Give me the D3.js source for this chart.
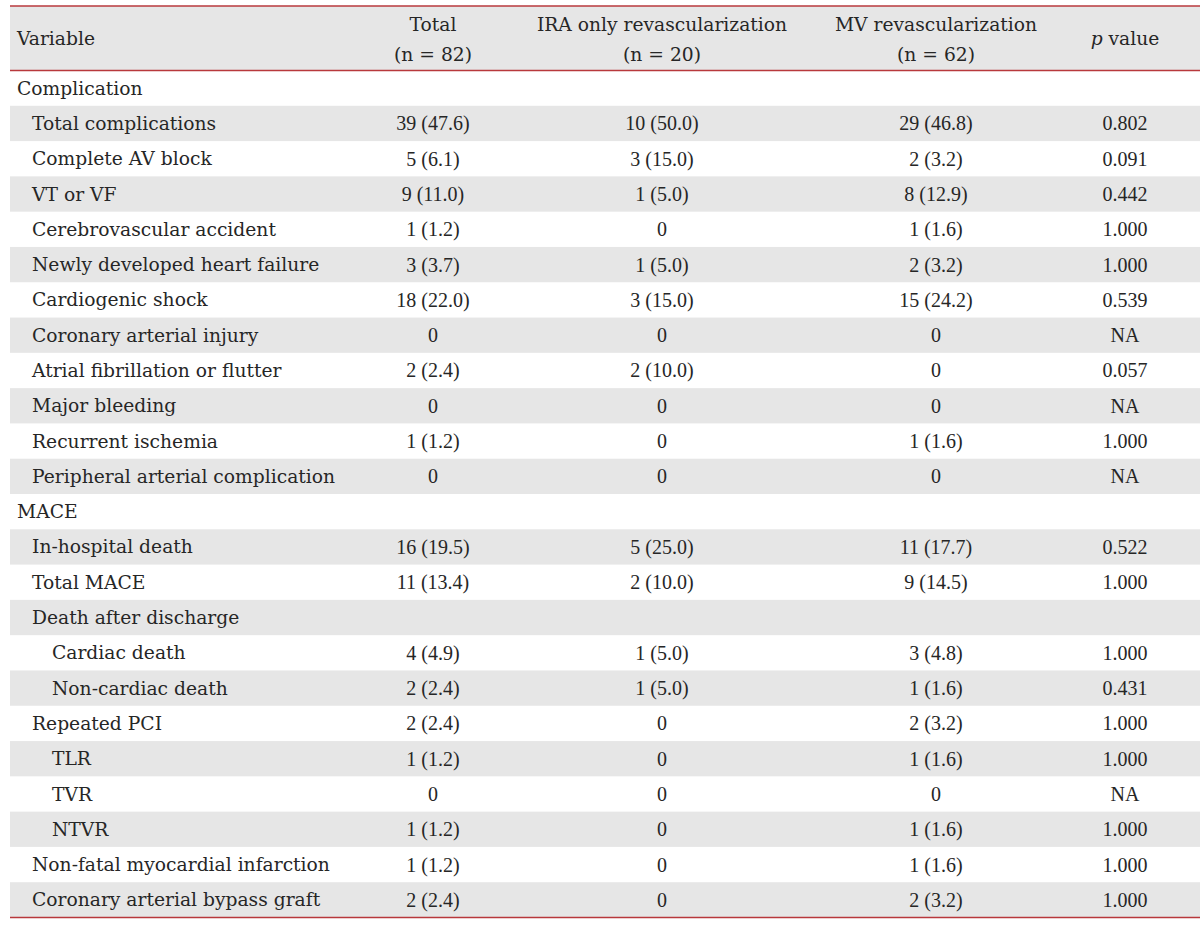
<!DOCTYPE html>
<html><head><meta charset="utf-8">
<script src="https://cdn.jsdelivr.net/npm/d3@7"></script>
<style>
body{margin:0;background:#fff;}
svg text{font-family:"DejaVu Serif",serif;fill:#262626;}
svg text.num{font-family:"Liberation Serif",serif;}
</style></head>
<body>
<svg id="chart" width="1200" height="925"></svg>
<script>
const headers = ["Variable", "Total", "IRA only revascularization", "MV revascularization", "p value"];
const subHeaders = ["", "(n = 82)", "(n = 20)", "(n = 62)", ""];
const variables = ["Complication","Total complications","Complete AV block","VT or VF","Cerebrovascular accident","Newly developed heart failure","Cardiogenic shock","Coronary arterial injury","Atrial fibrillation or flutter","Major bleeding","Recurrent ischemia","Peripheral arterial complication","MACE","In-hospital death","Total MACE","Death after discharge","Cardiac death","Non-cardiac death","Repeated PCI","TLR","TVR","NTVR","Non-fatal myocardial infarction","Coronary arterial bypass graft"];
const levels = [0,1,1,1,1,1,1,1,1,1,1,1,0,1,1,1,2,2,1,2,2,2,1,1];
const totalVals = ["","39 (47.6)","5 (6.1)","9 (11.0)","1 (1.2)","3 (3.7)","18 (22.0)","0","2 (2.4)","0","1 (1.2)","0","","16 (19.5)","11 (13.4)","","4 (4.9)","2 (2.4)","2 (2.4)","1 (1.2)","0","1 (1.2)","1 (1.2)","2 (2.4)"];
const iraVals = ["","10 (50.0)","3 (15.0)","1 (5.0)","0","1 (5.0)","3 (15.0)","0","2 (10.0)","0","0","0","","5 (25.0)","2 (10.0)","","1 (5.0)","1 (5.0)","0","0","0","0","0","0"];
const mvVals = ["","29 (46.8)","2 (3.2)","8 (12.9)","1 (1.6)","2 (3.2)","15 (24.2)","0","0","0","1 (1.6)","0","","11 (17.7)","9 (14.5)","","3 (4.8)","1 (1.6)","2 (3.2)","1 (1.6)","0","1 (1.6)","1 (1.6)","2 (3.2)"];
const pVals = ["","0.802","0.091","0.442","1.000","1.000","0.539","NA","0.057","NA","1.000","NA","","0.522","1.000","","1.000","0.431","1.000","1.000","NA","1.000","1.000","1.000"];

const rows = variables.map((v,i)=>({v, lvl:levels[i], vals:[totalVals[i], iraVals[i], mvVals[i], pVals[i]]}));

const svg = d3.select("#chart");
const left = 10, right = 1200;
const headTop = 6, headBottom = 70.5, bodyBottom = 917.5;
const fs = 18.7, fsNum = 20;
const red = "#b8383c";

const y = d3.scaleBand().domain(d3.range(rows.length)).range([headBottom, bodyBottom]);
const colX = d3.scaleOrdinal().domain([1,2,3,4]).range([433, 662, 936, 1125]);
const indent = d3.scaleOrdinal().domain([0,1,2]).range([17, 32, 52]);

// header band
svg.append("rect").attr("x", left).attr("y", headTop).attr("width", right-left).attr("height", headBottom-headTop).attr("fill", "#e6e6e6");
// stripes
svg.selectAll("rect.stripe").data(rows.map((r,i)=>i).filter(i=>i%2===1)).join("rect")
  .attr("class","stripe").attr("x", left).attr("y", i=>y(i)).attr("width", right-left).attr("height", y.bandwidth()).attr("fill", "#e6e6e6");

// header text
svg.append("text").attr("x", 17).attr("y", 45).attr("font-size", fs).text(headers[0]);
[1,2,3].forEach(c=>{
  svg.append("text").attr("x", colX(c)).attr("y", 31).attr("text-anchor","middle").attr("font-size", fs).text(headers[c]);
  svg.append("text").attr("x", colX(c)).attr("y", 61).attr("text-anchor","middle").attr("font-size", fs).text(subHeaders[c]);
});
const pt = svg.append("text").attr("x", colX(4)).attr("y", 45).attr("text-anchor","middle").attr("font-size", fs);
pt.append("tspan").attr("font-style","italic").text(headers[4].split(" ")[0]);
pt.append("tspan").text(" " + headers[4].split(" ").slice(1).join(" "));

// body
const g = svg.selectAll("g.row").data(rows).join("g").attr("class","row")
  .attr("transform", (d,i)=>`translate(0,${y(i)+y.bandwidth()/2})`);
g.append("text").attr("x", d=>indent(d.lvl)).attr("dy","0.35em").attr("font-size", fs).text(d=>d.v);
[1,2,3,4].forEach(c=>{
  g.append("text").attr("class","num").attr("x", colX(c)).attr("dy","0.35em").attr("text-anchor","middle").attr("font-size", fsNum).text(d=>d.vals[c-1]);
});

// rules
[headTop, headBottom, bodyBottom].forEach(yy=>{
  svg.append("line").attr("x1", left).attr("x2", right).attr("y1", yy).attr("y2", yy).attr("stroke", red).attr("stroke-width", 1.5);
});
</script>
</body></html>
